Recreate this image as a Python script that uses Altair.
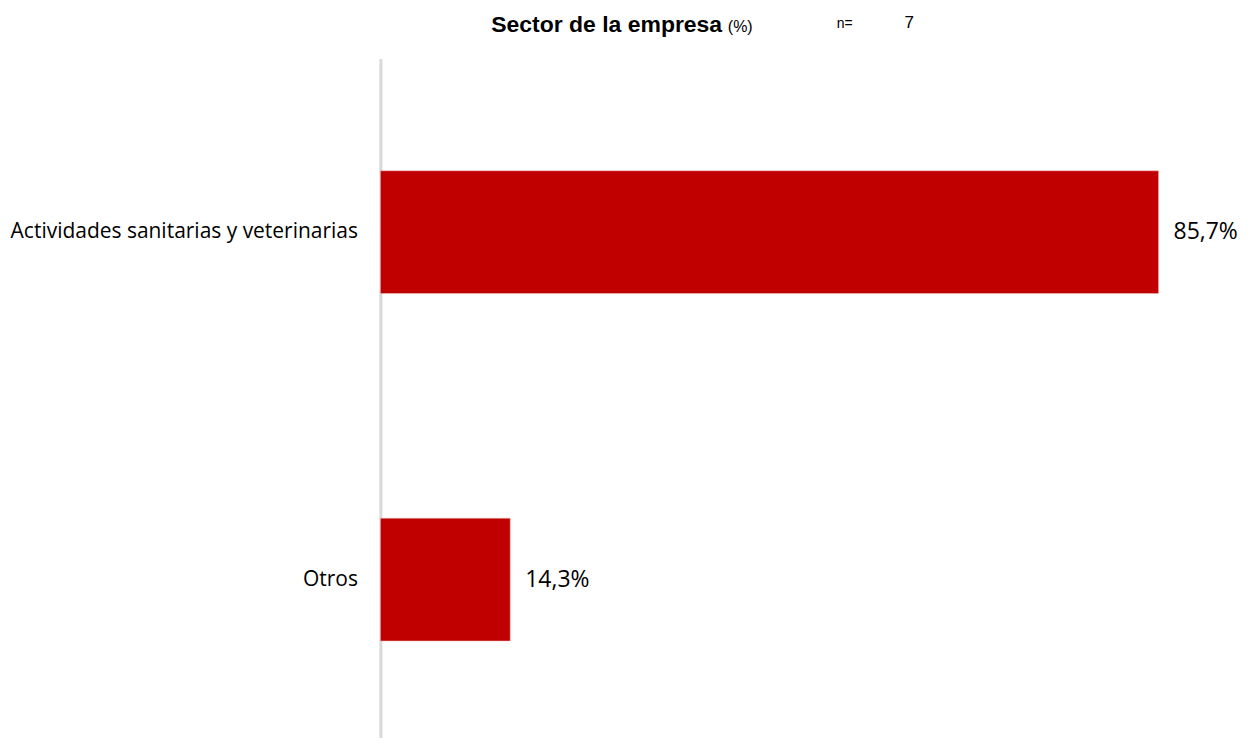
import altair as alt
import pandas as pd

categories = ["Actividades sanitarias y veterinarias", "Otros"]
values = [85.7, 14.3]
labels = [f"{v:.1f}%".replace(".", ",") for v in values]

df = pd.DataFrame({"cat": categories, "val": values, "lab": labels})

W, H = 864, 680
FONT = "Open Sans"

base = alt.Chart(df)

bars = base.mark_bar(color="#C00000", stroke="#F2C4C4", strokeWidth=0.5).encode(
    y=alt.Y("cat:N", sort=categories, title=None,
            scale=alt.Scale(paddingInner=0.6466, paddingOuter=0.3003, align=0.538),
            axis=alt.Axis(domain=True, domainColor="#D9D9D9", domainWidth=3, ticks=False,
                          labelFont=FONT, labelFontSize=21, labelColor="#000000",
                          labelPadding=23, labelLimit=400, grid=False)),
    x=alt.X("val:Q", scale=alt.Scale(domain=[0, 95], nice=False, zero=True), axis=None),
)

text = base.mark_text(align="left", baseline="middle", dx=15, font=FONT, fontSize=23,
                      color="#000000").encode(
    y=alt.Y("cat:N", sort=categories),
    x=alt.X("val:Q"),
    text="lab:N",
)

TITLE_Y = 31 - 58
title_df = pd.DataFrame({"t": ["Sector de la empresa"]})
title_bold = alt.Chart(title_df).mark_text(align="left", baseline="alphabetic", font="Liberation Sans",
                                           fontSize=23, fontWeight="bold", color="#000000").encode(
    x=alt.value(492 - 381), y=alt.value(TITLE_Y), text="t:N")
pct_df = pd.DataFrame({"t": ["(%)"]})
title_pct = alt.Chart(pct_df).mark_text(align="left", baseline="alphabetic", font="Liberation Sans",
                                        fontSize=16, color="#000000").encode(
    x=alt.value(729 - 381), y=alt.value(TITLE_Y), text="t:N")
n_df = pd.DataFrame({"t": ["n="]})
n_lab = alt.Chart(n_df).mark_text(align="left", baseline="alphabetic", font="Liberation Sans",
                                  fontSize=14, color="#000000").encode(
    x=alt.value(838 - 381), y=alt.value(27 - 58), text="t:N")
n7_df = pd.DataFrame({"t": ["7"]})
n_val = alt.Chart(n7_df).mark_text(align="left", baseline="alphabetic", font="Liberation Sans",
                                   fontSize=17, color="#000000").encode(
    x=alt.value(906 - 381), y=alt.value(27 - 58), text="t:N")

chart = alt.layer(bars, text, title_bold, title_pct, n_lab, n_val).properties(
    width=W, height=H,
    autosize=alt.AutoSizeParams(type="none"),
    padding={"left": 373, "top": 50, "right": 0, "bottom": 0},
).configure(background="#FFFFFF", view=alt.ViewConfig(stroke=None))

chart.save("out.html", embed_options={"renderer": "svg", "actions": False})
